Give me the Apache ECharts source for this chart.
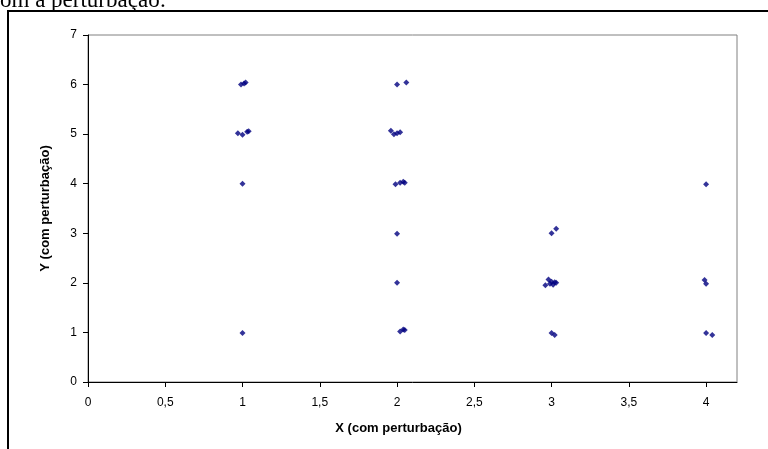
<!DOCTYPE html>
<html>
<head>
<meta charset="utf-8">
<script src="https://cdn.jsdelivr.net/npm/echarts@6/dist/echarts.min.js"></script>
<style>html,body{margin:0;padding:0;background:#fff;}#c{width:768px;height:449px;}</style>
</head>
<body>
<div id="c"></div>
<script>
// Values
const xValues = [0.99, 1.01, 1.02, 0.97, 1.00, 1.03, 1.04, 1.00, 1.00,
                 2.00, 2.06, 1.96, 1.98, 2.00, 2.02, 1.99, 2.02, 2.04, 2.05, 2.00, 2.00, 2.02, 2.04, 2.05,
                 3.00, 3.03, 2.96, 2.98, 2.99, 3.00, 3.01, 3.02, 3.03, 3.00, 3.02,
                 4.00, 3.99, 4.00, 4.00, 4.04];
const yValues = [6.00, 6.02, 6.04, 5.02, 4.99, 5.05, 5.06, 4.00, 0.99,
                 6.00, 6.04, 5.07, 5.00, 5.02, 5.04, 3.99, 4.02, 4.04, 4.02, 2.99, 2.00, 1.02, 1.06, 1.05,
                 3.00, 3.09, 1.95, 2.07, 1.98, 2.02, 1.96, 2.01, 2.00, 0.99, 0.95,
                 3.99, 2.06, 1.98, 0.99, 0.95];
const xTickValues = [0, 0.5, 1, 1.5, 2, 2.5, 3, 3.5, 4];
const xTickLabels = ['0', '0,5', '1', '1,5', '2', '2,5', '3', '3,5', '4'];
const yTickLabels = ['0', '1', '2', '3', '4', '5', '6', '7'];
const xTitle = 'X (com perturbação)';
const yTitle = 'Y (com perturbação)';
const headerText = 'om a perturbação:';

const points = xValues.map((x, i) => [x, yValues[i]]);
const chart = echarts.init(document.getElementById('c'), null, {renderer: 'canvas'});
const font = 'Liberation Sans, Arial, sans-serif';
chart.setOption({
  animation: false,
  backgroundColor: '#fff',
  grid: {left: 88, top: 35, right: 31, bottom: 67, show: true, borderColor: '#808080', borderWidth: 1},
  graphic: [
    {type: 'rect', shape: {x: 8, y: 11, width: 800, height: 500},
     style: {fill: 'none', stroke: '#000', lineWidth: 2}, z: 0},
    {type: 'text', left: 0, top: -11,
     style: {text: headerText, font: '23px "Liberation Serif", "Times New Roman", serif', fill: '#000'}}
  ],
  xAxis: {
    type: 'value', min: 0, max: 4.2, interval: 0.5,
    name: xTitle, nameLocation: 'middle', nameGap: 40,
    nameTextStyle: {fontFamily: font, fontSize: 13, fontWeight: 'bold', color: '#000', padding: [0, 28, 0, 0]},
    axisLine: {show: true, onZero: false, lineStyle: {color: '#000', width: 1}},
    axisTick: {show: true, length: 5, inside: false, customValues: xTickValues, lineStyle: {color: '#000'}},
    splitLine: {show: false},
    axisLabel: {fontFamily: font, fontSize: 12, color: '#000', margin: 15, customValues: xTickValues,
      formatter: v => { const i = xTickValues.findIndex(t => Math.abs(t - v) < 1e-6); return i >= 0 ? xTickLabels[i] : ''; }}
  },
  yAxis: {
    type: 'value', min: 0, max: 7, interval: 1,
    name: yTitle, nameLocation: 'middle', nameGap: 36, nameRotate: 90,
    nameTextStyle: {fontFamily: font, fontSize: 13, fontWeight: 'bold', color: '#000'},
    axisLine: {show: true, onZero: false, lineStyle: {color: '#000', width: 1}},
    axisTick: {show: true, length: 5, inside: false, lineStyle: {color: '#000'}},
    splitLine: {show: false},
    axisLabel: {fontFamily: font, fontSize: 12, color: '#000', margin: 11,
      formatter: v => yTickLabels[Math.round(v)] ?? ''}
  },
  series: [{
    type: 'scatter',
    data: points,
    symbol: 'diamond',
    symbolSize: 6,
    itemStyle: {color: '#000080'}
  }]
});
</script>
</body>
</html>
